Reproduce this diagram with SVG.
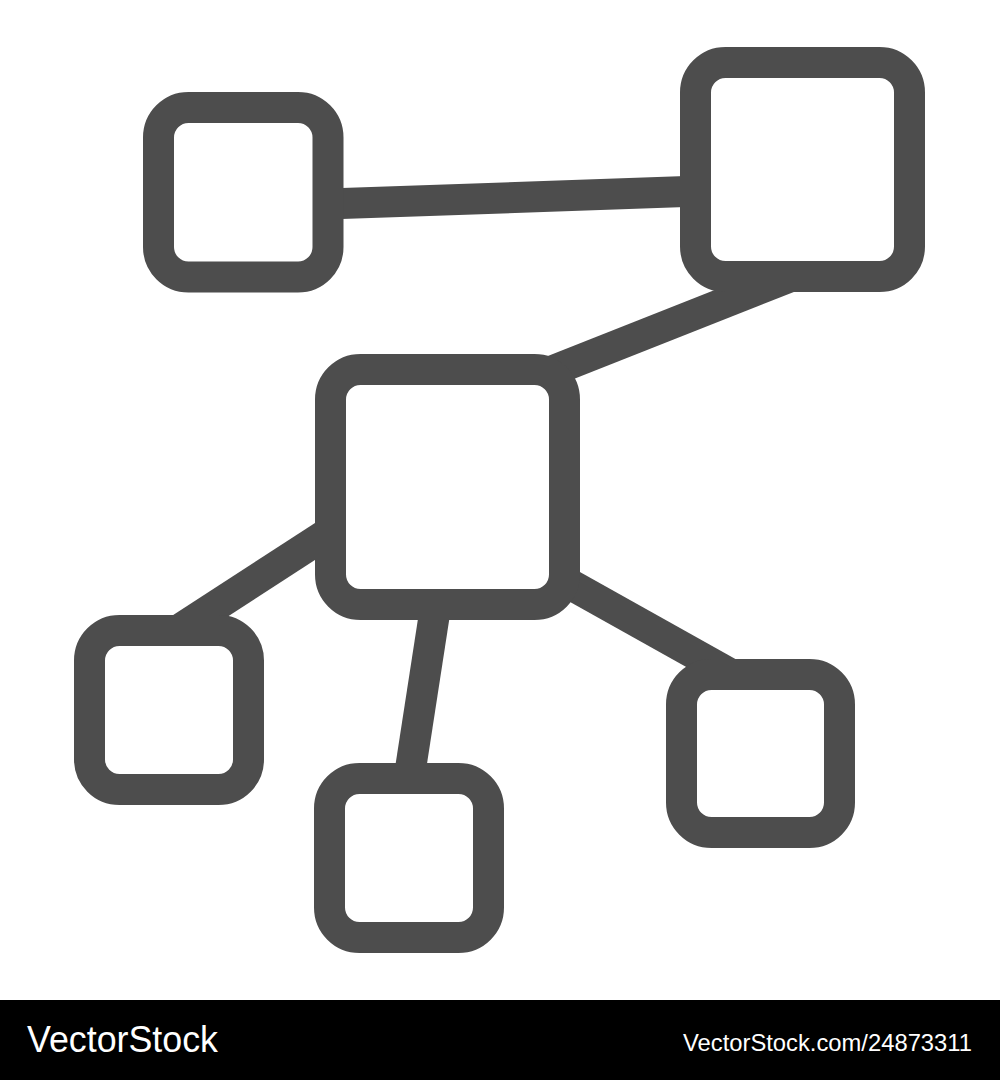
<svg xmlns="http://www.w3.org/2000/svg" width="1000" height="1080" viewBox="0 0 1000 1080">
  <style>
    .node { fill: #ffffff; stroke: #4d4d4d; stroke-width: 31; }
    .edge { stroke: #4d4d4d; stroke-width: 31; stroke-linecap: butt; fill: none; }
    .wm { fill: #ffffff; font-family: "Liberation Sans", Arial, sans-serif; }
  </style>
  <rect x="0" y="0" width="1000" height="1080" fill="#ffffff"/>
  <g id="connectors">
    <line class="edge" x1="250" y1="206.7" x2="800" y2="187.6"/>
    <line class="edge" x1="500" y1="391.5" x2="820" y2="265"/>
    <line class="edge" x1="400" y1="486.4" x2="140" y2="654.9"/>
    <line class="edge" x1="452" y1="500" x2="398" y2="850"/>
    <line class="edge" x1="500" y1="545" x2="780" y2="701.7"/>
  </g>
  <g id="node-top-left">
    <rect class="node" x="158.5" y="107.5" width="169.5" height="169.5" rx="30"/>
  </g>
  <g id="node-top-right">
    <rect class="node" x="695.5" y="62.5" width="214" height="214" rx="30"/>
  </g>
  <g id="node-center">
    <rect class="node" x="330.5" y="369.5" width="234" height="235" rx="30"/>
  </g>
  <g id="node-bottom-left">
    <rect class="node" x="89.5" y="630.5" width="159" height="159" rx="30"/>
  </g>
  <g id="node-bottom-middle">
    <rect class="node" x="329.5" y="778.5" width="159" height="159" rx="30"/>
  </g>
  <g id="node-bottom-right">
    <rect class="node" x="681.5" y="674.5" width="158" height="158" rx="30"/>
  </g>
  <g id="watermark">
    <rect x="0" y="1000" width="1000" height="80" fill="#000000"/>
    <text class="wm" x="27" y="1052" font-size="36" textLength="191" lengthAdjust="spacingAndGlyphs">VectorStock</text>
    <text class="wm" x="683" y="1051" font-size="24" textLength="289" lengthAdjust="spacingAndGlyphs">VectorStock.com/24873311</text>
  </g>
</svg>
